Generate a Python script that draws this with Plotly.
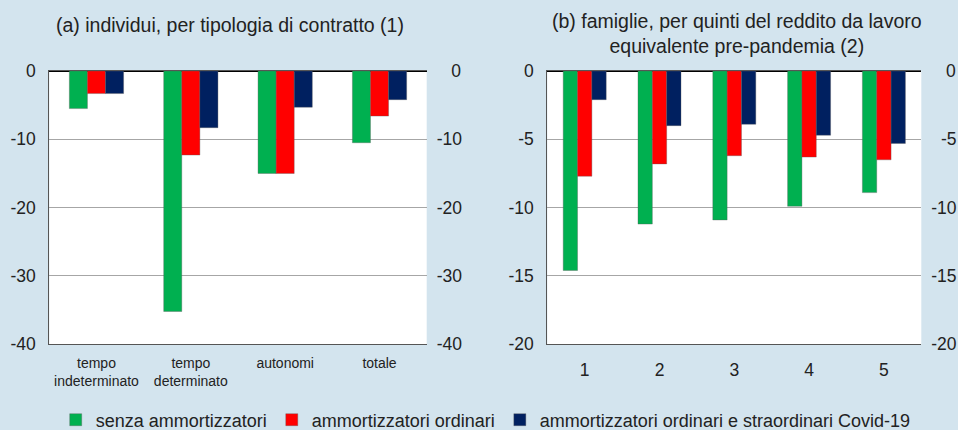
import plotly.graph_objects as go

# ---- data ----
series_names = ["senza ammortizzatori", "ammortizzatori ordinari",
                "ammortizzatori ordinari e straordinari Covid-19"]
series_colors = ["#00B050", "#FF0000", "#002060"]

cat_a = ["tempo<br>indeterminato", "tempo<br>determinato", "autonomi", "totale"]
a_senza = [-5.5, -35.2, -15.0, -10.5]
a_ordinari = [-3.3, -12.3, -15.0, -6.6]
a_covid = [-3.3, -8.3, -5.3, -4.2]

cat_b = ["1", "2", "3", "4", "5"]
b_senza = [-14.6, -11.2, -10.9, -9.9, -8.9]
b_ordinari = [-7.7, -6.8, -6.2, -6.3, -6.5]
b_covid = [-2.1, -4.0, -3.9, -4.7, -5.3]

ticks_a = [0, -10, -20, -30, -40]
ticks_b = [0, -5, -10, -15, -20]
ticklabels_a = ["0", "-10", "-20", "-30", "-40"]
ticklabels_b = ["0", "-5", "-10", "-15", "-20"]

FONT = "Liberation Sans, Arial, Helvetica, sans-serif"
BG = "#D3E4EE"


def right_align(labels):
    """Pad labels so that right-side tick labels line up on their right edge."""
    out = []
    n_dig = max(sum(c.isdigit() for c in s) for s in labels)
    has_minus = any(s.startswith("-") for s in labels)
    for s in labels:
        pad = ""
        if has_minus and not s.startswith("-"):
            pad += "\u2008"
        pad += "\u2007" * (n_dig - sum(c.isdigit() for c in s))
        out.append(pad + s)
    return out


fig = go.Figure()
for name, col, ya, yb in zip(series_names, series_colors,
                             [a_senza, a_ordinari, a_covid],
                             [b_senza, b_ordinari, b_covid]):
    fig.add_trace(go.Bar(x=cat_a, y=ya, name=name, marker_color=col,
                         marker_line=dict(color="rgba(90,90,90,0.6)", width=0.6),
                         xaxis="x", yaxis="y", legendgroup=name))
    fig.add_trace(go.Bar(x=cat_b, y=yb, name=name, marker_color=col,
                         marker_line=dict(color="rgba(90,90,90,0.6)", width=0.6),
                         xaxis="x2", yaxis="y2", legendgroup=name, showlegend=False))

# invisible helper traces so the mirrored right-hand axes are drawn
fig.add_trace(go.Scatter(x=[cat_a[0]], y=[a_senza[0]], mode="markers",
                         marker=dict(opacity=0), showlegend=False,
                         hoverinfo="skip", xaxis="x", yaxis="y3"))
fig.add_trace(go.Scatter(x=[cat_b[0]], y=[b_senza[0]], mode="markers",
                         marker=dict(opacity=0), showlegend=False,
                         hoverinfo="skip", xaxis="x2", yaxis="y4"))

H = 430.0
W = 958.0
ytop = 1 - 71 / H
ybot = 1 - 344.3 / H
dom_a = [49.3 / W, 426.7 / W]
dom_b = [547.3 / W, 921.3 / W]

tickfont = dict(family=FONT, size=17.5, color="#222222")
common_y = dict(showgrid=True, gridcolor="#A6A6A6", gridwidth=1,
                zeroline=True, zerolinecolor="#000000", zerolinewidth=2,
                showline=True, linecolor="#555555", linewidth=1.2,
                ticks="", ticklabelstandoff=9, tickfont=tickfont,
                domain=[ybot, ytop])
right_y = dict(side="right", showgrid=False, zeroline=False,
               showline=False, ticks="", ticklabelstandoff=9,
               tickfont=tickfont)

fig.update_layout(
    width=958, height=430,
    paper_bgcolor=BG, plot_bgcolor="white",
    margin=dict(l=0, r=0, t=0, b=0, autoexpand=False),
    barmode="group", bargap=0.425, bargroupgap=0,
    font=dict(family=FONT, color="#222222"),
    xaxis=dict(domain=dom_a, anchor="y", showline=True, linecolor="#555555",
               linewidth=1.2, mirror=True, ticks="", showgrid=False,
               tickfont=dict(family=FONT, size=14, color="#222222"),
               ticklabelstandoff=6),
    yaxis=dict(anchor="x", range=[-40, 0], tickvals=ticks_a,
               ticktext=ticklabels_a, **common_y),
    yaxis3=dict(anchor="x", overlaying="y", range=[-40, 0],
                tickvals=ticks_a, ticktext=right_align(ticklabels_a), **right_y),
    xaxis2=dict(domain=dom_b, anchor="y2", showline=True, linecolor="#555555",
                linewidth=1.2, mirror=True, ticks="", showgrid=False,
                tickfont=tickfont, ticklabelstandoff=10),
    yaxis2=dict(anchor="x2", range=[-20, 0], tickvals=ticks_b,
                ticktext=ticklabels_b, **common_y),
    yaxis4=dict(anchor="x2", overlaying="y2", range=[-20, 0],
                tickvals=ticks_b, ticktext=right_align(ticklabels_b), **right_y),
    legend=dict(orientation="h", x=0.507, xanchor="center", y=1 - 420 / H,
                yanchor="middle", bgcolor="rgba(0,0,0,0)",
                font=dict(family=FONT, size=18, color="#222222"),
                traceorder="normal", itemwidth=30),
    annotations=[
        dict(text="(a) individui, per tipologia di contratto (1)",
             x=230 / W, y=1 - 25 / H, xref="paper", yref="paper",
             xanchor="center", yanchor="middle", showarrow=False,
             font=dict(family=FONT, size=19.5, color="#222222")),
        dict(text="(b) famiglie, per quinti del reddito da lavoro<br>equivalente pre-pandemia (2)",
             x=736.5 / W, y=1 - 33 / H, xref="paper", yref="paper",
             xanchor="center", yanchor="middle", showarrow=False,
             font=dict(family=FONT, size=19.5, color="#222222")),
    ],
)

fig.write_html("out.html",
               config={"displayModeBar": False},
               post_script="document.body.style.margin='0px';"
                           "document.body.style.overflow='hidden';")
